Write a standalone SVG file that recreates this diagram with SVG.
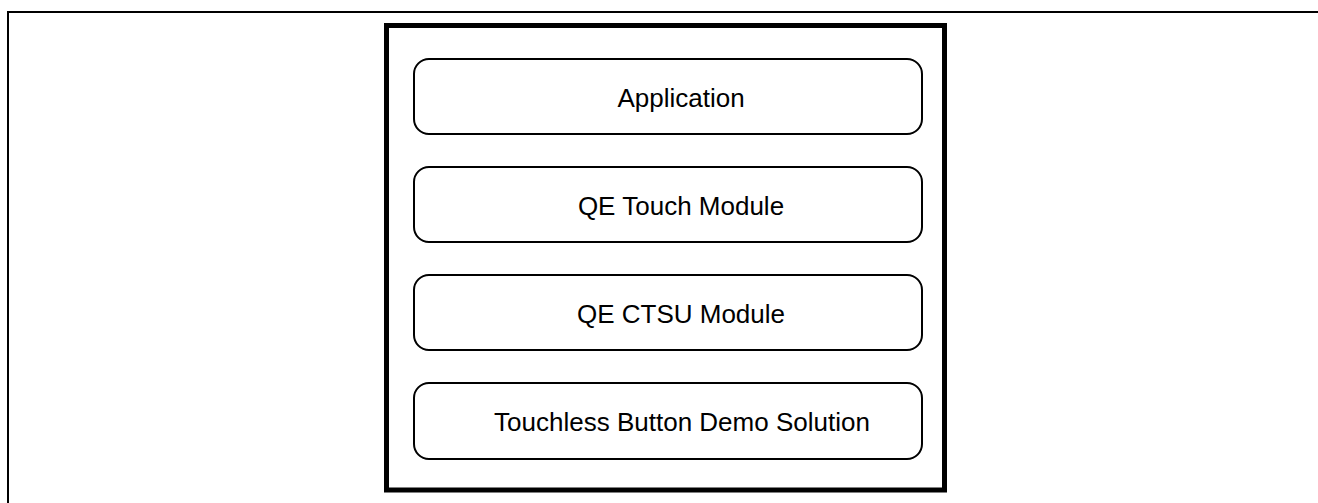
<svg xmlns="http://www.w3.org/2000/svg" width="1318" height="503" viewBox="0 0 1318 503">
<style>
.frame{fill:none;stroke:#000;stroke-width:2}
.outer{fill:#fff;stroke:#000;stroke-width:5}
.layer{fill:#fff;stroke:#000;stroke-width:2}
.lbl{font-family:"Liberation Sans",Arial,sans-serif;font-size:26px;fill:#000;text-anchor:middle}
</style>
<rect width="1318" height="503" fill="#fff"/>
<path class="frame" d="M8 503 V12 H1318"/>
<g id="stack">
<rect class="outer" x="386.5" y="25.5" width="558" height="464.5"/>
</g>
<g id="application">
<rect class="layer" x="414" y="59" width="508" height="75" rx="15" ry="15"/>
<text class="lbl" x="681" y="106.5">Application</text>
</g>
<g id="qe-touch">
<rect class="layer" x="414" y="167" width="508" height="75" rx="15" ry="15"/>
<text class="lbl" x="681" y="214.5">QE Touch Module</text>
</g>
<g id="qe-ctsu">
<rect class="layer" x="414" y="275" width="508" height="75" rx="15" ry="15"/>
<text class="lbl" x="681" y="322.5">QE CTSU Module</text>
</g>
<g id="touchless">
<rect class="layer" x="414" y="383" width="508" height="76" rx="15" ry="15"/>
<text class="lbl" x="682" y="431">Touchless Button Demo Solution</text>
</g>
<g id="connectors"></g>
</svg>
